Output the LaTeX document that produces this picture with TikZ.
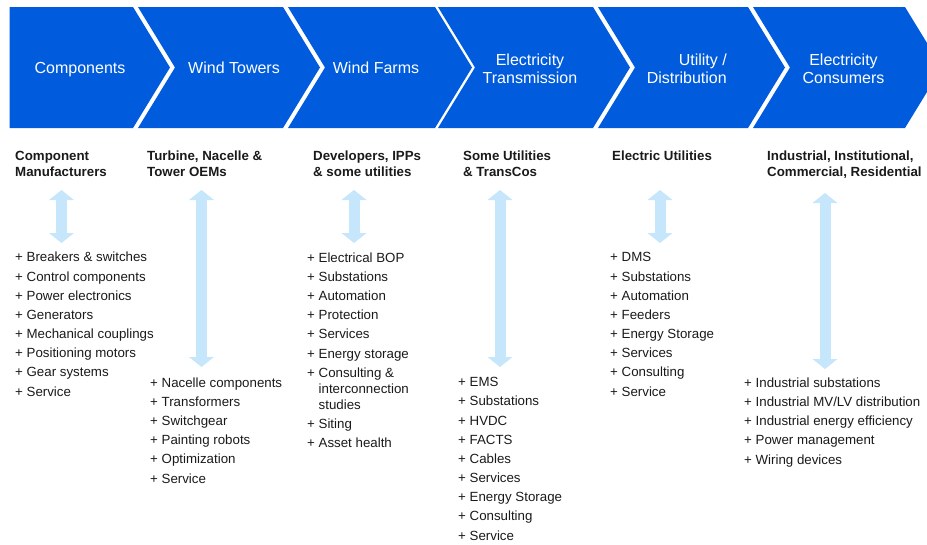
\documentclass[tikz,border=0pt]{standalone}
\usepackage{fontspec}
\setmainfont{Liberation Sans}
\usetikzlibrary{positioning,arrows.meta}

\definecolor{chain blue}{HTML}{005CDC}
\definecolor{arrow blue}{HTML}{C6E6FB}
\definecolor{text gray}{HTML}{1A1A1A}

\tikzset{
  stage/.style={fill=chain blue, draw=none},
  stagetext/.style={text=white, inner sep=0pt, align=center,
    font=\fontsize{16}{18.5}\selectfont},
  colhead/.style={anchor=base west, inner sep=0pt, align=left, text=text gray,
    font=\fontsize{13.3}{16}\selectfont\bfseries},
  itemlist/.style={anchor=base west, inner sep=0pt, align=left, text=text gray,
    font=\fontsize{13.3}{19.15}\selectfont},
  biarrow/.style={draw=arrow blue, line width=11pt,
    {Triangle[width=25pt,length=10pt,line width=0pt]}-{Triangle[width=25pt,length=10pt,line width=0pt]}},
}

\begin{document}
\begin{tikzpicture}[x=1pt, y=-1pt]
  \useasboundingbox (0,0) rectangle (927,544);
  \clip (0,0) rectangle (927,544);

  % value chain
  \fill[stage] (9.5,7) -- (133,7) -- (170,67.5) -- (133,128) -- (9.5,128) -- cycle;
  \foreach \l/\r in {138/283, 288/435, 438/593, 598/748, 753/905} {
    \fill[stage] (\l,7) -- (\r,7) -- ++(37,60.5) -- (\r,128) -- (\l,128) -- ++(37,-60.5) -- cycle;
  }
  \node[stagetext] (stage1) at (80,70) {Components};
  \node[stagetext] (stage2) at (234,68) {Wind Towers};
  \node[stagetext] (stage3) at (376,68) {Wind Farms};
  \node[stagetext] (stage4) at (530,69) {Electricity\\Transmission};
  \node[stagetext, align=right, anchor=east] (stage5) at (727,69) {Utility /\\Distribution};
  \node[stagetext] (stage6) at (843.5,69) {Electricity\\Consumers};

  % players (base = last line)
  \node[colhead] (head1) at (15,176) {Component\\Manufacturers};
  \node[colhead] (head2) at (147,176) {Turbine, Nacelle \&\\Tower OEMs};
  \node[colhead] (head3) at (313,176) {Developers, IPPs\\\& some utilities};
  \node[colhead] (head4) at (463,176) {Some Utilities\\\& TransCos};
  \node[colhead] (head5) at (612,160) {Electric Utilities};
  \node[colhead] (head6) at (767,176) {Industrial, Institutional,\\Commercial, Residential};

  % arrows
  \foreach \x/\t/\b [count=\i] in {61.5/190/243, 201.5/190/367, 354/190/243,
                                    500/190/367, 660/190/243, 825/193/369} {
    \coordinate (up\i) at (\x,\t);
    \coordinate (dn\i) at (\x,\b);
    \draw[biarrow] (up\i) -- (dn\i);
  }

  % offerings (base = last line)
  \node[itemlist] (list1) at (15,396) {+ Breakers \& switches\\+ Control components\\
    + Power electronics\\+ Generators\\+ Mechanical couplings\\+ Positioning motors\\
    + Gear systems\\+ Service};
  \node[itemlist] (list2) at (150,483) {+ Nacelle components\\+ Transformers\\
    + Switchgear\\+ Painting robots\\+ Optimization\\+ Service};
  \node[itemlist] (list3) at (307,447.5) {+ Electrical BOP\\+ Substations\\
    + Automation\\+ Protection\\+ Services\\+ Energy storage\\
    + Consulting \&\\[-3.15pt]\phantom{+ }interconnection\\[-3.15pt]\phantom{+ }studies\\
    + Siting\\+ Asset health};
  \node[itemlist] (list4) at (458,540) {+ EMS\\+ Substations\\+ HVDC\\+ FACTS\\
    + Cables\\+ Services\\+ Energy Storage\\+ Consulting\\+ Service};
  \node[itemlist] (list5) at (610,396) {+ DMS\\+ Substations\\+ Automation\\
    + Feeders\\+ Energy Storage\\+ Services\\+ Consulting\\+ Service};
  \node[itemlist] (list6) at (744,464) {+ Industrial substations\\
    + Industrial MV/LV distribution\\+ Industrial energy efficiency\\
    + Power management\\+ Wiring devices};
\end{tikzpicture}
\end{document}
